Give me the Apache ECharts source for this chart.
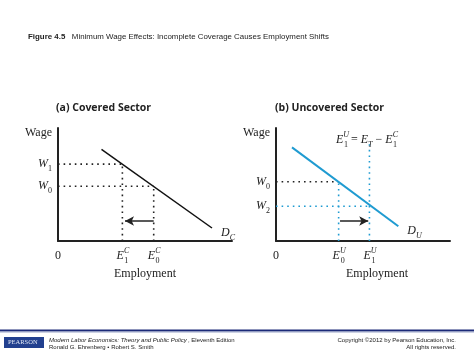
<!DOCTYPE html>
<html><head><meta charset="utf-8">
<script src="https://cdn.jsdelivr.net/npm/echarts@6/dist/echarts.min.js"></script>
<style>html,body{margin:0;padding:0;background:#fff}#c{width:474px;height:355px}</style>
</head><body><div id="c"></div>
<script>
// ---- Panel (a) Covered sector ----
const demandC = [[25, 81], [88.5, 11.5]];
const wageLevelsA = [68, 48.5];          // W1, W0
const wageLabelsA = ['1', '0'];
const employA = [37, 55];                // E1C, E0C
const employLabelsA = [['C', '1'], ['C', '0']];
const arrowA = [[55, 17.7], [38.5, 17.7]];
// ---- Panel (b) Uncovered sector ----
const demandU = [[9.2, 82.9], [70.3, 13]];
const wageLevelsB = [52.4, 30.8];        // W0, W2
const wageLabelsB = ['0', '2'];
const employB = [36, 53.7];              // E0U, E1U
const employLabelsB = [['U', '0'], ['U', '1']];
const e1uTop = 86.7;
const arrowB = [[36.8, 17.7], [53, 17.7]];
const wageNameY = 96;

const BLUE = '#1f9bd1';
const SERIF = '"Liberation Serif","DejaVu Serif",serif';
const rich = {
  i: {fontFamily: SERIF, fontStyle: 'italic', fontSize: 12, color: '#222', lineHeight: 18},
  n: {fontFamily: SERIF, fontSize: 12, color: '#222', lineHeight: 18},
  sub: {fontFamily: SERIF, fontSize: 8, color: '#222', verticalAlign: 'bottom', lineHeight: 18},
  sup: {fontFamily: SERIF, fontStyle: 'italic', fontSize: 8, color: '#222', verticalAlign: 'top', lineHeight: 18},
  sub2: {fontFamily: SERIF, fontSize: 8, color: '#222', verticalAlign: 'bottom', lineHeight: 18, padding: [0, 0, 0, -5]},
  subi: {fontFamily: SERIF, fontStyle: 'italic', fontSize: 8, color: '#222', verticalAlign: 'bottom', lineHeight: 18}
};
const dot = (c) => ({color: c, width: 1.6, type: [1.6, 4], cap: 'butt'});

function seg(gi, pts, color) {
  return {type: 'line', xAxisIndex: gi, yAxisIndex: gi, data: pts, symbol: 'none', silent: true,
    lineStyle: dot(color), z: 2};
}
const series = [];
// Panel a dotted guides
wageLevelsA.forEach((w, k) => {
  series.push(seg(0, [[0, w], [employA[k], w]], '#222'));
  series.push(seg(0, [[employA[k], 0], [employA[k], w]], '#222'));
});
series.push({type: 'line', xAxisIndex: 0, yAxisIndex: 0, data: demandC, symbol: 'none',
  lineStyle: {color: '#111', width: 1.5}, z: 3,
  endLabel: {show: true, formatter: '{i|D}{subi|C}', rich: rich, offset: [1, 5]},
  markLine: {silent: true, symbol: ['none', 'arrow'], symbolSize: [7, 9], label: {show: false},
    lineStyle: {color: '#222', width: 1.5, type: 'solid'},
    data: [[{coord: arrowA[0]}, {coord: arrowA[1]}]]}});
// Panel b dotted guides
series.push(seg(1, [[0, wageLevelsB[0]], [employB[0], wageLevelsB[0]]], '#222'));
series.push(seg(1, [[employB[0], 0], [employB[0], wageLevelsB[0]]], BLUE));
series.push(seg(1, [[0, wageLevelsB[1]], [employB[1], wageLevelsB[1]]], BLUE));
series.push({type: 'line', xAxisIndex: 1, yAxisIndex: 1, data: [[employB[1], 0], [employB[1], e1uTop]],
  symbol: 'none', lineStyle: dot(BLUE), z: 2,
  endLabel: {show: true, position: 'top', distance: 0, align: 'center', offset: [-3, -3],
    formatter: '{i|E}{sup|U}{sub2|1}{n| = }{i|E}{subi|T}{n| − }{i|E}{sup|C}{sub2|1}', rich: rich}});
series.push({type: 'line', xAxisIndex: 1, yAxisIndex: 1, data: demandU, symbol: 'none',
  lineStyle: {color: BLUE, width: 2}, z: 3,
  endLabel: {show: true, formatter: '{i|D}{subi|U}', rich: rich, offset: [1, 5]},
  markLine: {silent: true, symbol: ['none', 'arrow'], symbolSize: [7, 9], label: {show: false},
    lineStyle: {color: '#222', width: 1.5, type: 'solid'},
    data: [[{coord: arrowB[0]}, {coord: arrowB[1]}]]}});

function xAx(gi, vals, labs, namePad) {
  return {type: 'value', gridIndex: gi, min: 0, max: 100, splitLine: {show: false},
    axisLine: {lineStyle: {color: '#222', width: 2}}, axisTick: {show: false},
    name: 'Employment', nameLocation: 'middle', nameGap: 27,
    nameTextStyle: {fontFamily: SERIF, fontSize: 12, color: '#222', padding: namePad},
    axisLabel: {customValues: [0].concat(vals), margin: 6, rich: rich,
      formatter: (v) => {
        if (v === 0) return '{n|0}';
        const k = vals.indexOf(v);
        return '{i|E}{sup|' + labs[k][0] + '}{sub2|' + labs[k][1] + '}';
      }}};
}
function yAx(gi, vals, labs) {
  return {type: 'value', gridIndex: gi, min: 0, max: 100, splitLine: {show: false},
    axisLine: {lineStyle: {color: '#222', width: 2}}, axisTick: {show: false},
    axisLabel: {customValues: vals.concat([wageNameY]), margin: 6, rich: rich,
      formatter: (v) => {
        if (v === wageNameY) return '{n|Wage}';
        const k = vals.indexOf(v);
        return '{i|W}{sub|' + labs[k] + '}';
      }}};
}

const option = {
  animation: false,
  backgroundColor: '#fff',
  title: [
    {text: '{b|Figure 4.5}   Minimum Wage Effects: Incomplete Coverage Causes Employment Shifts',
      left: 28, top: 33, padding: 0,
      textStyle: {fontFamily: '"Liberation Sans",Arial,sans-serif', fontSize: 7.9, fontWeight: 'normal', color: '#222',
        rich: {b: {fontFamily: '"Liberation Sans",Arial,sans-serif', fontSize: 7.9, fontWeight: 'bold', color: '#222'}}}},
    {text: '(a) Covered Sector', left: 56, top: 103, padding: 0,
      textStyle: {fontFamily: '"Open Sans","DejaVu Sans",sans-serif', fontSize: 10.5, fontWeight: 'bold', color: '#222'}},
    {text: '(b) Uncovered Sector', left: 275, top: 103, padding: 0,
      textStyle: {fontFamily: '"Open Sans","DejaVu Sans",sans-serif', fontSize: 10.5, fontWeight: 'bold', color: '#222'}}
  ],
  grid: [
    {left: 58, top: 128, width: 174, height: 113},
    {left: 276, top: 128, width: 174, height: 113}
  ],
  xAxis: [xAx(0, employA, employLabelsA, [0, 0, 0, 0]), xAx(1, employB, employLabelsB, [0, 0, 0, 28])],
  yAxis: [yAx(0, wageLevelsA, wageLabelsA), yAx(1, wageLevelsB, wageLabelsB)],
  series: series,
  graphic: [
    {type: 'rect', left: 0, top: 329.5, shape: {width: 474, height: 2}, style: {fill: '#1c2a78'}},
    {type: 'rect', left: 0, top: 331.5, shape: {width: 474, height: 1}, style: {fill: '#9aa3c8'}},
    {type: 'rect', left: 4, top: 337, shape: {width: 40, height: 11}, style: {fill: '#22408f'}},
    {type: 'text', left: 8, top: 339, style: {text: 'PEARSON', fill: '#dfe6f5', font: '6.5px "Liberation Serif",serif'}},
    {type: 'text', left: 49, top: 337.5, style: {text: 'Modern Labor Economics: Theory and Public Policy', fill: '#222', font: 'italic 6px "Liberation Sans",Arial,sans-serif'}},
    {type: 'text', left: 188, top: 337.5, style: {text: ', Eleventh Edition', fill: '#222', font: '6px "Liberation Sans",Arial,sans-serif'}},
    {type: 'text', left: 49, top: 344.5, style: {text: 'Ronald G. Ehrenberg • Robert S. Smith', fill: '#222', font: '6px "Liberation Sans",Arial,sans-serif'}},
    {type: 'text', right: 18, top: 337.5, style: {text: 'Copyright ©2012 by Pearson Education, Inc.', fill: '#222', font: '6px "Liberation Sans",Arial,sans-serif'}},
    {type: 'text', right: 18, top: 344.5, style: {text: 'All rights reserved.', fill: '#222', font: '6px "Liberation Sans",Arial,sans-serif'}}
  ]
};
const chart = echarts.init(document.getElementById('c'), null, {renderer: 'canvas'});
chart.setOption(option);
</script></body></html>
